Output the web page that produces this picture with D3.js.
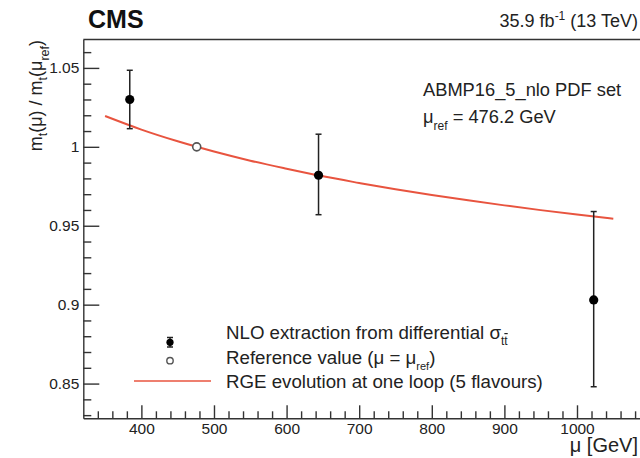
<!DOCTYPE html>
<html>
<head>
<meta charset="utf-8">
<script src="https://cdn.jsdelivr.net/npm/d3@7"></script>
<style>
  html, body { margin: 0; padding: 0; background: #fff; }
  svg { display: block; font-family: "Liberation Sans", Arial, Helvetica, sans-serif; }
</style>
</head>
<body>
<svg id="chart" width="640" height="458"></svg>
<script>
// ---- data ----
const nloMu = [384, 644, 1023];
const nloRatio = [1.030, 0.982, 0.903];
const nloErrUp = [0.0185, 0.026, 0.056];
const nloErrDown = [0.0185, 0.025, 0.055];

const refMu = [476.2];
const refRatio = [1.0];

const rgeMu = [350, 400, 450, 476.2, 500, 550, 600, 650, 700, 750, 800, 850, 900, 950, 1000, 1050];
const rgeRatio = [1.0195, 1.0109, 1.0035, 1.0, 0.9970, 0.9912, 0.9861, 0.9813, 0.9771, 0.9731, 0.9695, 0.9661, 0.9629, 0.9599, 0.9571, 0.9545];

const xMajorTicks = [400, 500, 600, 700, 800, 900, 1000];
const xTickLabels = ["400", "500", "600", "700", "800", "900", "1000"];
const xMinorTicks = [340, 360, 380, 420, 440, 460, 480, 520, 540, 560, 580, 620, 640, 660, 680, 720, 740, 760, 780, 820, 840, 860, 880, 920, 940, 960, 980, 1020, 1040, 1060, 1080];
const yMajorTicks = [0.85, 0.9, 0.95, 1.0, 1.05];
const yTickLabels = ["0.85", "0.9", "0.95", "1", "1.05"];
const yMinorTicks = [0.83, 0.84, 0.86, 0.87, 0.88, 0.89, 0.91, 0.92, 0.93, 0.94, 0.96, 0.97, 0.98, 0.99, 1.01, 1.02, 1.03, 1.04, 1.06];

// ---- layout ----
const svg = d3.select("#chart");
const frame = { left: 83.3, right: 649.6, top: 39.5, bottom: 418.3 };
const x = d3.scaleLinear().domain([320, 1100]).range([frame.left, frame.right]);
const y = d3.scaleLinear().domain([0.828, 1.068]).range([frame.bottom, frame.top]);
const axisColor = "#333";
const curveColor = "#e8543f";

// top frame line
svg.append("line")
  .attr("x1", frame.left).attr("x2", frame.right)
  .attr("y1", frame.top).attr("y2", frame.top)
  .attr("stroke", axisColor).attr("stroke-width", 1.4);

// x axis
const gx = svg.append("g").attr("transform", `translate(0,${frame.bottom})`);
gx.call(d3.axisBottom(x).tickValues(xMajorTicks)
  .tickFormat((d, i) => xTickLabels[i]).tickSize(-13).tickSizeOuter(0).tickPadding(5));
gx.append("g").call(d3.axisBottom(x).tickValues(xMinorTicks).tickFormat("").tickSize(-7).tickSizeOuter(0))
  .select(".domain").remove();
gx.selectAll("text").attr("font-size", 15.5).attr("fill", "#222").attr("font-family", null);

// y axis
const gy = svg.append("g").attr("transform", `translate(${frame.left},0)`);
gy.call(d3.axisLeft(y).tickValues(yMajorTicks)
  .tickFormat((d, i) => yTickLabels[i]).tickSize(-16).tickSizeOuter(0).tickPadding(4));
gy.append("g").call(d3.axisLeft(y).tickValues(yMinorTicks).tickFormat("").tickSize(-8).tickSizeOuter(0))
  .select(".domain").remove();
gy.selectAll("text").attr("font-size", 15.5).attr("fill", "#222").attr("font-family", null);

svg.selectAll(".domain, .tick line").attr("stroke", axisColor).attr("stroke-width", 1.4);

// RGE curve
const line = d3.line().x((d, i) => x(rgeMu[i])).y((d, i) => y(rgeRatio[i])).curve(d3.curveMonotoneX);
svg.append("path").datum(rgeMu).attr("d", line)
  .attr("fill", "none").attr("stroke", curveColor).attr("stroke-width", 2);

// error bars
const eb = svg.append("g").attr("stroke", "#222").attr("stroke-width", 1.5);
nloMu.forEach((m, i) => {
  const cx = x(m), top = y(nloRatio[i] + nloErrUp[i]), bot = y(nloRatio[i] - nloErrDown[i]);
  eb.append("line").attr("x1", cx).attr("x2", cx).attr("y1", top).attr("y2", bot);
  eb.append("line").attr("x1", cx - 3).attr("x2", cx + 3).attr("y1", top).attr("y2", top);
  eb.append("line").attr("x1", cx - 3).attr("x2", cx + 3).attr("y1", bot).attr("y2", bot);
});
svg.append("g").selectAll("circle").data(nloMu).join("circle")
  .attr("cx", d => x(d)).attr("cy", (d, i) => y(nloRatio[i])).attr("r", 4.6).attr("fill", "#000");

svg.append("g").selectAll("circle").data(refMu).join("circle")
  .attr("cx", d => x(d)).attr("cy", (d, i) => y(refRatio[i])).attr("r", 4)
  .attr("fill", "#fff").attr("stroke", "#555").attr("stroke-width", 1.6);

// ---- texts ----
svg.append("text").attr("x", 88).attr("y", 28).attr("font-size", 25).attr("font-weight", "bold")
  .attr("fill", "#111").text("CMS");

const lumi = svg.append("text").attr("x", 638).attr("y", 27).attr("font-size", 18)
  .attr("text-anchor", "end").attr("fill", "#222");
lumi.append("tspan").text("35.9 fb");
lumi.append("tspan").attr("font-size", 12).attr("dy", -7).text("-1");
lumi.append("tspan").attr("dy", 7).text(" (13 TeV)");

// axis titles
svg.append("text").attr("x", 638).attr("y", 452).attr("font-size", 20)
  .attr("text-anchor", "end").attr("fill", "#222").text("\u03bc [GeV]");

const yt = svg.append("text").attr("transform", "translate(42,40) rotate(-90)")
  .attr("text-anchor", "end").attr("font-size", 18).attr("fill", "#222");
yt.append("tspan").text("m");
yt.append("tspan").attr("font-size", 12.5).attr("dy", 5).text("t");
yt.append("tspan").attr("dy", -5).text("(\u03bc) / m");
yt.append("tspan").attr("font-size", 12.5).attr("dy", 5).text("t");
yt.append("tspan").attr("dy", -5).text("(\u03bc");
yt.append("tspan").attr("font-size", 12.5).attr("dy", 7).text("ref");
yt.append("tspan").attr("dy", -7).text(")");

// info text
svg.append("text").attr("x", 423).attr("y", 96).attr("font-size", 18.3).attr("fill", "#222")
  .text("ABMP16_5_nlo PDF set");
const mr = svg.append("text").attr("x", 423).attr("y", 123).attr("font-size", 18.3).attr("fill", "#222");
mr.append("tspan").text("\u03bc");
mr.append("tspan").attr("font-size", 12).attr("dy", 7).text("ref");
mr.append("tspan").attr("dy", -7).text(" = 476.2 GeV");

// legend
const lg = svg.append("g");
lg.append("line").attr("x1", 170).attr("x2", 170).attr("y1", 337.5).attr("y2", 347)
  .attr("stroke", "#222").attr("stroke-width", 1.5);
lg.append("line").attr("x1", 167).attr("x2", 173).attr("y1", 337.5).attr("y2", 337.5)
  .attr("stroke", "#222").attr("stroke-width", 1.5);
lg.append("line").attr("x1", 167).attr("x2", 173).attr("y1", 347).attr("y2", 347)
  .attr("stroke", "#222").attr("stroke-width", 1.5);
lg.append("circle").attr("cx", 170).attr("cy", 342.3).attr("r", 3.6).attr("fill", "#000");
lg.append("circle").attr("cx", 170).attr("cy", 360.7).attr("r", 3.2)
  .attr("fill", "#fff").attr("stroke", "#555").attr("stroke-width", 1.4);
lg.append("line").attr("x1", 134).attr("x2", 211).attr("y1", 381).attr("y2", 381)
  .attr("stroke", curveColor).attr("stroke-width", 1.5);

const t1 = lg.append("text").attr("x", 226).attr("y", 339).attr("font-size", 18.7).attr("fill", "#222");
t1.append("tspan").text("NLO extraction from differential \u03c3");
t1.append("tspan").attr("font-size", 12).attr("dy", 6).text("t");
t1.append("tspan").attr("font-size", 12).attr("text-decoration", "overline").text("t");

const t2 = lg.append("text").attr("x", 226).attr("y", 364).attr("font-size", 18.7).attr("fill", "#222");
t2.append("tspan").text("Reference value (\u03bc = \u03bc");
t2.append("tspan").attr("font-size", 11).attr("dy", 6).text("ref");
t2.append("tspan").attr("dy", -6).text(")");

lg.append("text").attr("x", 226).attr("y", 388).attr("font-size", 18.7).attr("fill", "#222")
  .text("RGE evolution at one loop (5 flavours)");
</script>
</body>
</html>
